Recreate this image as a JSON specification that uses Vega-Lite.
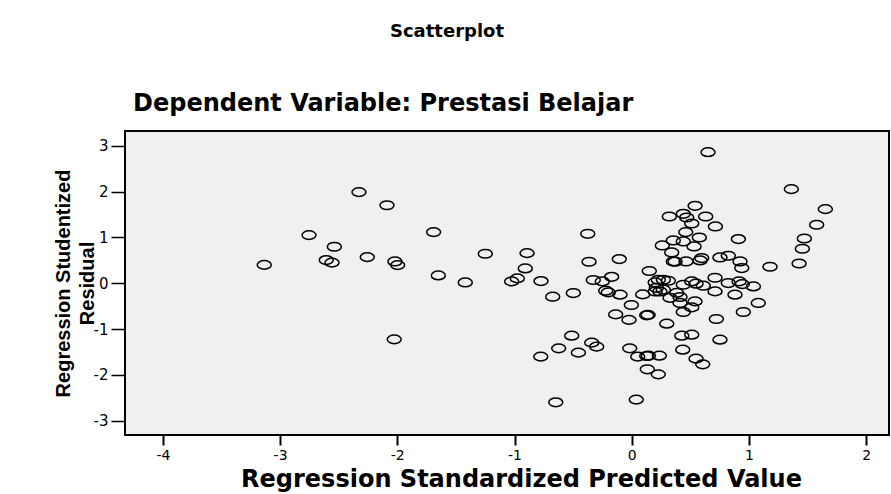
{
  "$schema": "https://vega.github.io/schema/vega-lite/v6.json",
  "background": "white",
  "padding": {"left": 52, "top": 23, "right": 0, "bottom": 0},
  "title": {"text": "Scatterplot", "font": "DejaVu Sans", "fontSize": 18, "fontWeight": "bold", "color": "black", "anchor": "middle", "offset": 50, "dx": -24},
  "vconcat": [
    {
      "width": 764,
      "height": 304,
      "title": {"text": "Dependent Variable: Prestasi Belajar", "font": "DejaVu Sans", "fontSize": 24, "fontWeight": "bold", "color": "black", "anchor": "start", "offset": 15, "dx": 80},
      "data": {"values": [
        {"pred": -3.135, "resid": 0.40}, {"pred": -2.753, "resid": 1.05}, {"pred": -2.606, "resid": 0.505},
        {"pred": -2.557, "resid": 0.45}, {"pred": -2.537, "resid": 0.795}, {"pred": -2.327, "resid": 1.987},
        {"pred": -2.256, "resid": 0.57}, {"pred": -2.088, "resid": 1.70}, {"pred": -2.02, "resid": 0.475},
        {"pred": -1.997, "resid": 0.395}, {"pred": -2.026, "resid": -1.224}, {"pred": -1.69, "resid": 1.115},
        {"pred": -1.65, "resid": 0.17}, {"pred": -1.42, "resid": 0.017}, {"pred": -1.249, "resid": 0.643},
        {"pred": -1.024, "resid": 0.04}, {"pred": -0.976, "resid": 0.105}, {"pred": -0.908, "resid": 0.323},
        {"pred": -0.893, "resid": 0.657}, {"pred": -0.774, "resid": 0.047}, {"pred": -0.674, "resid": -0.294},
        {"pred": -0.498, "resid": -0.214}, {"pred": -0.375, "resid": 1.078}, {"pred": -0.364, "resid": 0.468},
        {"pred": -0.328, "resid": 0.07}, {"pred": -0.251, "resid": 0.04}, {"pred": -0.171, "resid": 0.14},
        {"pred": -0.222, "resid": -0.163}, {"pred": -0.2, "resid": -0.2}, {"pred": -0.1, "resid": -0.25},
        {"pred": -0.106, "resid": 0.527}, {"pred": 0.15, "resid": 0.266}, {"pred": -0.003, "resid": -0.475},
        {"pred": -0.137, "resid": -0.68}, {"pred": -0.023, "resid": -0.80}, {"pred": 0.128, "resid": -0.70},
        {"pred": 0.14, "resid": -0.69}, {"pred": -0.512, "resid": -1.144}, {"pred": -0.623, "resid": -1.42},
        {"pred": -0.776, "resid": -1.60}, {"pred": -0.455, "resid": -1.514}, {"pred": -0.341, "resid": -1.296},
        {"pred": -0.299, "resid": -1.383}, {"pred": -0.017, "resid": -1.42}, {"pred": 0.051, "resid": -1.60},
        {"pred": 0.128, "resid": -1.587}, {"pred": 0.142, "resid": -1.58}, {"pred": 0.236, "resid": -1.58},
        {"pred": 0.133, "resid": -1.877}, {"pred": 0.227, "resid": -1.987}, {"pred": -0.648, "resid": -2.597},
        {"pred": 0.039, "resid": -2.538}, {"pred": 0.435, "resid": -1.449}, {"pred": 0.549, "resid": -1.645},
        {"pred": 0.606, "resid": -1.769}, {"pred": 0.427, "resid": -1.144}, {"pred": 0.512, "resid": -1.122},
        {"pred": 0.753, "resid": -1.231}, {"pred": 0.299, "resid": -0.882}, {"pred": 0.722, "resid": -0.78},
        {"pred": 0.952, "resid": -0.628}, {"pred": 1.08, "resid": -0.43}, {"pred": 0.54, "resid": -0.396},
        {"pred": 0.512, "resid": -0.527}, {"pred": 0.44, "resid": -0.628}, {"pred": 0.881, "resid": -0.25},
        {"pred": 0.711, "resid": -0.178}, {"pred": 0.327, "resid": -0.32}, {"pred": 0.412, "resid": -0.3},
        {"pred": 0.094, "resid": -0.244}, {"pred": 0.651, "resid": 2.858}, {"pred": 1.362, "resid": 2.052},
        {"pred": 1.652, "resid": 1.616}, {"pred": 1.578, "resid": 1.275}, {"pred": 1.473, "resid": 0.976},
        {"pred": 1.456, "resid": 0.752}, {"pred": 1.428, "resid": 0.431}, {"pred": 1.18, "resid": 0.36},
        {"pred": 0.541, "resid": 1.688}, {"pred": 0.321, "resid": 1.455}, {"pred": 0.44, "resid": 1.514},
        {"pred": 0.469, "resid": 1.434}, {"pred": 0.512, "resid": 1.303}, {"pred": 0.631, "resid": 1.455},
        {"pred": 0.714, "resid": 1.238}, {"pred": 0.461, "resid": 1.115}, {"pred": 0.577, "resid": 0.998},
        {"pred": 0.355, "resid": 0.933}, {"pred": 0.44, "resid": 0.911}, {"pred": 0.261, "resid": 0.824},
        {"pred": 0.532, "resid": 0.802}, {"pred": 0.341, "resid": 0.671}, {"pred": 0.91, "resid": 0.963},
        {"pred": 0.355, "resid": 0.475}, {"pred": 0.37, "resid": 0.47}, {"pred": 0.463, "resid": 0.475},
        {"pred": 0.597, "resid": 0.549}, {"pred": 0.583, "resid": 0.497}, {"pred": 0.753, "resid": 0.562},
        {"pred": 0.824, "resid": 0.599}, {"pred": 0.924, "resid": 0.475}, {"pred": 0.939, "resid": 0.331},
        {"pred": 0.711, "resid": 0.12}, {"pred": 0.227, "resid": 0.076}, {"pred": 0.27, "resid": 0.076},
        {"pred": 0.312, "resid": 0.054}, {"pred": 0.2, "resid": 0.017}, {"pred": 0.21, "resid": -0.1},
        {"pred": 0.2, "resid": -0.18}, {"pred": 0.24, "resid": -0.18}, {"pred": 0.27, "resid": -0.14},
        {"pred": 0.44, "resid": -0.033}, {"pred": 0.512, "resid": 0.04}, {"pred": 0.549, "resid": -0.01},
        {"pred": 0.611, "resid": -0.054}, {"pred": 0.824, "resid": 0.004}, {"pred": 0.916, "resid": 0.04},
        {"pred": 0.943, "resid": -0.02}, {"pred": 1.038, "resid": -0.07}, {"pred": 0.384, "resid": -0.21},
        {"pred": 0.412, "resid": -0.43}
      ]},
      "mark": {"type": "point", "shape": "M -1,0 A 1,0.62 0 1,1 1,0 A 1,0.62 0 1,1 -1,0 Z", "size": 196, "filled": false, "stroke": "black", "strokeWidth": 1.5, "opacity": 1},
      "encoding": {
        "x": {
          "field": "pred", "type": "quantitative",
          "scale": {"domain": [-4.323, 2.195], "nice": false, "zero": false},
          "axis": {
            "values": [-4, -3, -2, -1, 0, 1, 2],
            "labelExpr": "datum.value < 0 ? '-' + abs(datum.value) : '' + datum.value",
            "title": "Regression Standardized Predicted Value",
            "domain": false, "grid": false,
            "tickColor": "black", "tickWidth": 2, "tickSize": 10,
            "labelFont": "DejaVu Sans", "labelFontSize": 14, "labelColor": "black", "labelPadding": 3,
            "titleFont": "DejaVu Sans", "titleFontSize": 24, "titleFontWeight": "bold", "titleColor": "black", "titlePadding": 5,
            "titleX": 396
          }
        },
        "y": {
          "field": "resid", "type": "quantitative",
          "scale": {"domain": [-3.31, 3.32], "nice": false, "zero": false},
          "axis": {
            "values": [-3, -2, -1, 0, 1, 2, 3],
            "labelExpr": "datum.value < 0 ? '-' + abs(datum.value) : '' + datum.value",
            "title": ["Regression Studentized", "Residual"],
            "domain": false, "grid": false,
            "tickColor": "black", "tickWidth": 1.5, "tickSize": 14,
            "labelFont": "DejaVu Sans", "labelFontSize": 15, "labelColor": "black", "labelPadding": 3,
            "titleFont": "Liberation Sans", "titleFontSize": 20, "titleFontWeight": "bold", "titleColor": "black", "titlePadding": -4, "titleLineHeight": 24
          }
        }
      }
    }
  ],
  "config": {
    "view": {"fill": "#f0f0f0", "stroke": "black", "strokeWidth": 2}
  }
}
